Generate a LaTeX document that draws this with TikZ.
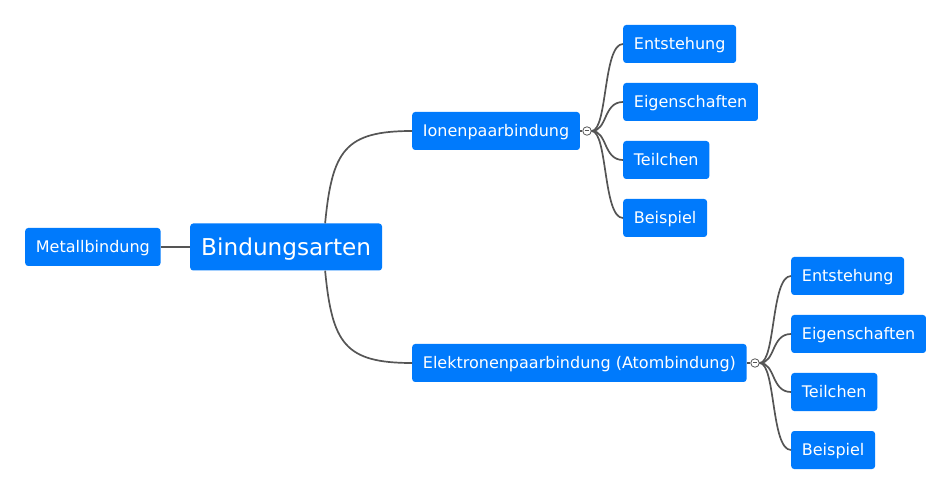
\documentclass[tikz,border=0pt]{standalone}
\usepackage{fontspec}
\setmainfont{DejaVu Sans}
\definecolor{MapBlue}{HTML}{007AFC}
\definecolor{LineGray}{HTML}{555555}

\begin{document}
\begin{tikzpicture}[x=1pt,y=-1pt,
    topic/.style={fill=MapBlue,text=white,rounded corners=3pt,anchor=west,
        inner xsep=10.7pt,minimum height=38pt,text height=11.7pt,text depth=0pt,
        font=\fontsize{16}{19}\selectfont},
    root/.style={topic,inner xsep=11pt,minimum height=47pt,text height=17pt,
        font=\fontsize{23.2}{27}\selectfont},
    link/.style={draw=LineGray,line width=1.7pt},
    fold/.style={circle,draw=LineGray,fill=white,line width=0.8pt,inner sep=0pt,minimum size=8.5pt}]

    \useasboundingbox (0,0) rectangle (951,494);

    % main topics
    \node[root] (arten) at (190,247) {Bindungsarten};
    \node[topic] (metall) at (25,247) {Metallbindung};
    \node[topic] (ionen) at (412,131) {Ionenpaarbindung};
    \node[topic] (elektr) at (412,363) {Elektronenpaarbindung (Atombindung)};

    % subtopics
    \node[topic] (ie) at (623,44) {Entstehung};
    \node[topic] (ig) at (623,102) {Eigenschaften};
    \node[topic] (it) at (623,160) {Teilchen};
    \node[topic] (ib) at (623,218) {Beispiel};

    \node[topic] (ee) at (791,276) {Entstehung};
    \node[topic] (eg) at (791,334) {Eigenschaften};
    \node[topic] (et) at (791,392) {Teilchen};
    \node[topic] (eb) at (791,450) {Beispiel};

    % connectors
    \draw[link] (metall.east) -- (arten.west);
    \draw[link] ([xshift=39pt]arten.north) .. controls ([xshift=46pt,yshift=73pt]arten.north) and ([xshift=-67pt]ionen.west) .. (ionen.west);
    \draw[link] ([xshift=39pt]arten.south) .. controls ([xshift=46pt,yshift=-73pt]arten.south) and ([xshift=-67pt]elektr.west) .. (elektr.west);

    \node[fold] (fi) at (587,131) {};
    \node[fold] (fe) at (755,363) {};

    \foreach \leaf in {ie,ig,it,ib}
        \draw[link] (fi.east) .. controls ([xshift=16pt]fi.east) and ([xshift=-20pt]\leaf.west) .. (\leaf.west);
    \foreach \leaf in {ee,eg,et,eb}
        \draw[link] (fe.east) .. controls ([xshift=16pt]fe.east) and ([xshift=-20pt]\leaf.west) .. (\leaf.west);

    \draw[link] (ionen.east) -- (fi.west);
    \draw[link] (elektr.east) -- (fe.west);
    \draw[LineGray,line width=1pt] ([xshift=-2.2pt]fi.center) -- ([xshift=2.2pt]fi.center);
    \draw[LineGray,line width=1pt] ([xshift=-2.2pt]fe.center) -- ([xshift=2.2pt]fe.center);
\end{tikzpicture}
\end{document}
